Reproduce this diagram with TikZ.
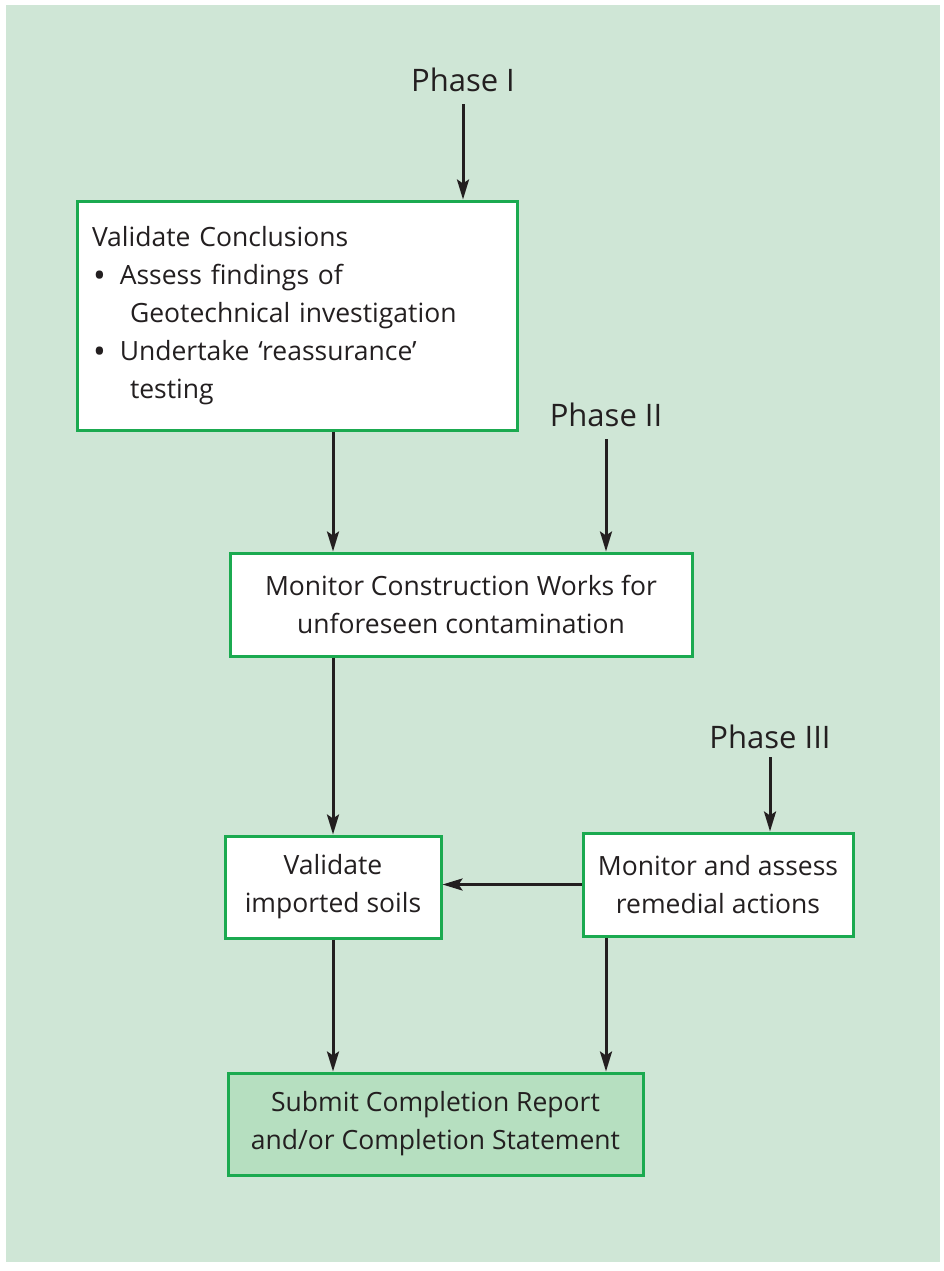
\documentclass[tikz,border=0pt]{standalone}
\usepackage{fontspec}
\setmainfont{Open Sans}
\usetikzlibrary{arrows.meta}
\definecolor{bggreen}{HTML}{CFE6D6}
\definecolor{boxgreen}{HTML}{1BAA50}
\definecolor{fillgreen}{HTML}{B6DFC0}
\definecolor{ink}{HTML}{231F20}
\newcommand{\bigbul}{\raisebox{-3pt}{\fontsize{34}{38}\selectfont\textbullet}}
\begin{document}
\begin{tikzpicture}[x=1pt,y=-1pt,
  box/.style={draw=boxgreen,line width=3pt,fill=white,inner sep=0pt,text=ink,
    font=\fontsize{26.5}{38}\selectfont,align=center},
  phase/.style={text=ink,font=\fontsize{31}{34}\selectfont,inner sep=0pt},
  arr/.style={draw=ink,line width=3pt,-{Stealth[length=20pt,width=12pt,inset=4pt]}}]
\useasboundingbox (0,0) rectangle (944,1271);
\fill[bggreen] (6,5) rectangle (940,1262);
% nodes
\node[box,minimum width=440pt,minimum height=229pt,align=left,text width=410pt] (b1) at (297,315.5)
 {Validate Conclusions\\
  \hspace*{1pt}\bigbul\hspace{14pt}Assess findings of\\
  \hspace*{38pt}Geotechnical investigation\\
  \hspace*{1pt}\bigbul\hspace{14pt}Undertake `reassurance'\\
  \hspace*{38pt}testing};
\node[box,minimum width=462pt,minimum height=103pt] (b2) at (461,604.5)
 {Monitor Construction Works for\\unforeseen contamination};
\node[box,minimum width=216pt,minimum height=102pt] (b3) at (333,887)
 {Validate\\imported soils};
\node[box,minimum width=270pt,minimum height=103pt] (b4) at (718,884.5)
 {Monitor and assess\\remedial actions};
\node[box,fill=fillgreen,minimum width=415pt,minimum height=102pt] (b5) at (435.5,1124)
 {Submit Completion Report\\and/or Completion Statement};
\node[phase] (p1) at (463,80) {Phase I};
\node[phase] (p2) at (606,415) {Phase II};
\node[phase] (p3) at (770,737) {Phase III};
% connectors
\draw[arr,shorten <=12pt] (p1.south) -- (p1.south |- b1.north);
\draw[arr,shorten <=12pt] (p2.south) -- (p2.south |- b2.north);
\draw[arr,shorten <=8pt] (p3.south) -- (p3.south |- b4.north);
\draw[arr] (b1.south -| b3.north) -- (b2.north -| b3.north);
\draw[arr] (b2.south -| b3.north) -- (b3.north);
\draw[arr] (b4.west) -- (b4.west -| b3.east);
\draw[arr] (b3.south) -- (b5.north -| b3.south);
\draw[arr] (b4.south -| p2.south) -- (b5.north -| p2.south);
\end{tikzpicture}
\end{document}
